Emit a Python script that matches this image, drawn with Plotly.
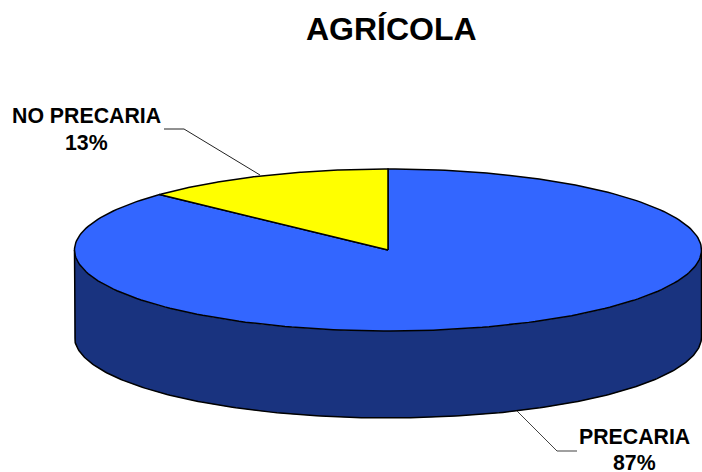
import numpy as np
import plotly.graph_objects as go

title = "AGRÍCOLA"
categories = ["PRECARIA", "NO PRECARIA"]
shares = [87, 13]
colors = ["#3366FF", "#FFFF00"]
side_color = "#19337F"

W, H = 702, 472
CX, CY, RX, RY, DEPTH = 388, 250, 313.5, 81, 87


def rim(f0, f1, n=240, dy=0):
    f = np.linspace(f0, f1, n)
    return CX + RX * np.sin(2 * np.pi * f), CY + dy - RY * np.cos(2 * np.pi * f)


fig = go.Figure()
line = dict(color="#000000", width=1.5)

# side wall: visible front half of the rim, dropped by the depth
xb, yb = rim(0.25, 0.75, dy=DEPTH)
xt, yt = rim(0.75, 0.25)
fig.add_trace(go.Scatter(x=np.r_[xb, xt], y=np.r_[yb, yt], fill="toself",
                         fillcolor=side_color, mode="none", hoverinfo="skip"))
fig.add_trace(go.Scatter(x=np.r_[xt[0], xb[::-1], xt[-1]], y=np.r_[yt[0], yb[::-1], yt[-1]],
                         mode="lines", line=line, hoverinfo="skip"))

# top face: wedges from the shares, clockwise from twelve o'clock
total = sum(shares)
start = 0.0
for name, value, color in zip(categories, shares, colors):
    stop = start + value / total
    xs, ys = rim(start, stop)
    fig.add_trace(go.Scatter(x=np.r_[CX, xs, CX], y=np.r_[CY, ys, CY], fill="toself",
                             fillcolor=color, mode="lines", line=line, name=name,
                             hoverinfo="name"))
    start = stop

# leader lines
leader = dict(color="#222222", width=1)
fig.add_trace(go.Scatter(x=[164, 184, 260], y=[129, 129, 175], mode="lines", line=leader, hoverinfo="skip"))
fig.add_trace(go.Scatter(x=[517, 557], y=[411, 451], mode="lines", line=dict(color="#444444", width=1), hoverinfo="skip"))
fig.add_trace(go.Scatter(x=[557, 577], y=[451, 451], mode="lines", line=dict(color="#808080", width=1.5), hoverinfo="skip"))


def label(x, y, text, size):
    fig.add_annotation(x=x, y=y, xref="x", yref="y", text=f"<b>{text}</b>", showarrow=False,
                       xanchor="center", yanchor="middle",
                       font=dict(family="Liberation Sans", size=size, color="#000000"))


label(391.5, 28.5, title, 32)
label(86, 116, categories[1], 21.3)
label(86, 143, f"{shares[1]}%", 21.3)
label(634.5, 437, categories[0], 21.3)
label(634, 463, f"{shares[0]}%", 21.3)

fig.update_layout(
    width=W, height=H, margin=dict(l=0, r=0, t=0, b=0),
    paper_bgcolor="#FFFFFF", plot_bgcolor="#FFFFFF", showlegend=False,
    xaxis=dict(range=[0, W], visible=False, fixedrange=True),
    yaxis=dict(range=[H, 0], visible=False, fixedrange=True),
)
fig.write_html("out.html", config={"displayModeBar": False},
               post_script="document.body.style.margin='0';document.body.style.overflow='hidden';")
